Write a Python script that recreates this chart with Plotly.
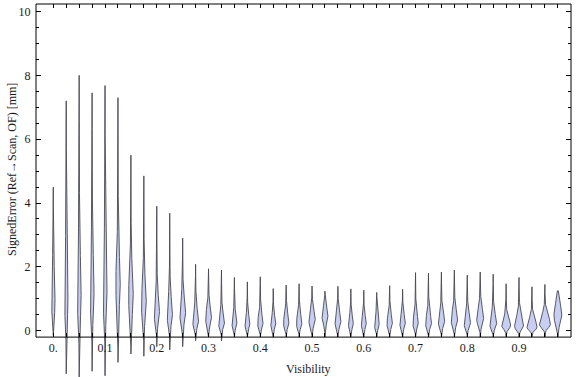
import numpy as np
import plotly.graph_objects as go

# ---------------- data ----------------
visibility = [0.0, 0.025, 0.05, 0.075, 0.1, 0.125, 0.15, 0.175, 0.2, 0.225,
              0.25, 0.275, 0.3, 0.325, 0.35, 0.375, 0.4, 0.425, 0.45, 0.475,
              0.5, 0.525, 0.55, 0.575, 0.6, 0.625, 0.65, 0.675, 0.7, 0.725,
              0.75, 0.775, 0.8, 0.825, 0.85, 0.875, 0.9, 0.925, 0.95, 0.975]

err_min = [-0.15, -1.35, -1.46, -1.27, -1.41, -0.99, -0.73, -0.80, -0.50, -0.60,
           -0.50, -0.31, -0.20, -0.32, -0.20, -0.20, -0.20, -0.20, -0.20, -0.20,
           -0.20, -0.20, -0.20, -0.20, -0.20, -0.20, -0.20, -0.20, -0.20, -0.20,
           -0.20, -0.20, -0.20, -0.20, -0.20, -0.20, -0.20, -0.20, -0.20, -0.20]

err_max = [4.50, 7.20, 8.00, 7.45, 7.68, 7.30, 5.50, 4.85, 3.90, 3.68,
           2.90, 2.08, 1.94, 1.90, 1.67, 1.53, 1.69, 1.32, 1.43, 1.47,
           1.40, 1.24, 1.39, 1.31, 1.27, 1.20, 1.41, 1.30, 1.82, 1.80,
           1.84, 1.90, 1.74, 1.84, 1.77, 1.47, 1.67, 1.375, 1.45, 1.25]

err_mode = [0.80, 0.80, 0.90, 0.90, 0.90, 1.40, 1.00, 0.75, 0.50, 0.45,
            0.50, 0.26, 0.36, 0.20, 0.20, 0.19, 0.20, 0.19, 0.20, 0.19,
            0.31, 0.42, 0.25, 0.19, 0.19, 0.16, 0.20, 0.20, 0.20, 0.20,
            0.26, 0.31, 0.20, 0.32, 0.19, 0.16, 0.12, 0.10, 0.19, 0.45]

# relative peak density (full violin width)
peak_density = [2.5, 2.5, 3.0, 3.0, 3.0, 3.5, 3.8, 4.0, 4.5, 4.5,
                5.0, 5.0, 5.0, 5.0, 4.0, 4.0, 4.5, 4.0, 4.5, 4.5,
                5.5, 5.0, 5.0, 4.0, 4.0, 4.0, 4.5, 4.5, 4.5, 5.0,
                5.5, 5.5, 5.5, 6.0, 6.0, 8.0, 8.0, 9.0, 10.0, 7.0]

spread_lo = [0.35, 0.40, 0.45, 0.45, 0.45, 0.60, 0.45, 0.35, 0.25, 0.22,
             0.22, 0.14, 0.18, 0.11, 0.11, 0.11, 0.11, 0.11, 0.11, 0.11,
             0.15, 0.18, 0.13, 0.11, 0.11, 0.10, 0.11, 0.11, 0.11, 0.11,
             0.13, 0.15, 0.11, 0.15, 0.11, 0.10, 0.09, 0.08, 0.10, 0.22]

spread_hi = [1.00, 1.30, 1.30, 1.30, 1.30, 0.90, 0.80, 0.70, 0.50, 0.50,
             0.45, 0.35, 0.35, 0.30, 0.28, 0.25, 0.28, 0.25, 0.30, 0.30,
             0.30, 0.30, 0.30, 0.25, 0.25, 0.25, 0.28, 0.28, 0.28, 0.30,
             0.30, 0.32, 0.32, 0.35, 0.30, 0.22, 0.30, 0.25, 0.28, 0.40]

x_major = [0.0, 0.1, 0.2, 0.3, 0.4, 0.5, 0.6, 0.7, 0.8, 0.9]
x_major_text = ["0.", "0.1", "0.2", "0.3", "0.4", "0.5", "0.6", "0.7", "0.8", "0.9"]
y_major = [0, 2, 4, 6, 8, 10]
y_minor = [0.5, 1, 1.5, 2.5, 3, 3.5, 4.5, 5, 5.5, 6.5, 7, 7.5, 8.5, 9, 9.5]

# ---------------- layout geometry ----------------
W, H = 576, 377
ML, MR, MT, MB = 36, 5, 4, 0
XR = [-0.0334, 1.0004]
YR = [-1.45, 10.235]
FRAME_Y = -0.2
plot_w = W - ML - MR
plot_h = H - MT - MB
px_per_x = plot_w / (XR[1] - XR[0])
frame_pos = (FRAME_Y - YR[0]) / (YR[1] - YR[0])

FILL = "rgb(199,206,241)"
EDGE = "rgb(72,72,82)"
FONT = "Liberation Serif"
TAIL = 1.0

fig = go.Figure()
for xc, lo, hi, m, dens, slo, shi in zip(visibility, err_min, err_max, err_mode,
                                         peak_density, spread_lo, spread_hi):
    ys = np.linspace(lo, hi, 400)
    s = np.where(ys < m, slo, shi)
    bulge = 0.5 * dens * np.exp(-0.5 * ((ys - m) / s) ** 2)
    tail = np.where(ys >= m, (hi - ys) / (hi - m), (ys - lo) / (m - lo)) * 0.5 * TAIL
    hw = (bulge + tail) / px_per_x
    xs = np.concatenate([xc + hw, (xc - hw)[::-1], [xc + hw[0]]])
    yy = np.concatenate([ys, ys[::-1], [ys[0]]])
    fig.add_trace(go.Scatter(x=xs, y=yy, mode="lines", fill="toself",
                             fillcolor=FILL, line=dict(color=EDGE, width=0.9),
                             hoverinfo="skip", showlegend=False))

# dummy trace for top axis
fig.add_trace(go.Scatter(x=[visibility[0]], y=[0], xaxis="x2", mode="markers",
                         marker=dict(opacity=0), showlegend=False, hoverinfo="skip"))

tickfont = dict(family=FONT, size=12, color="#1a1a1a")
fig.update_layout(
    width=W, height=H,
    margin=dict(l=ML, r=MR, t=MT, b=MB, autoexpand=False),
    paper_bgcolor="white", plot_bgcolor="white",
    xaxis=dict(range=XR, anchor="free", position=frame_pos, showgrid=False,
               zeroline=False, showline=False, ticks="inside", ticklen=4,
               tickcolor="black", tickwidth=1, tickvals=x_major, ticktext=x_major_text,
               tickfont=tickfont, ticklabelstandoff=2,
               minor=dict(tickvals=visibility, ticks="inside", ticklen=4,
                          tickcolor="black", showgrid=False)),
    xaxis2=dict(range=XR, overlaying="x", side="top", anchor="y", showgrid=False,
                zeroline=False, showline=False, ticks="inside", ticklen=4,
                tickcolor="black", tickvals=visibility, showticklabels=False),
    yaxis=dict(range=YR, showgrid=False, zeroline=False, showline=True,
               linecolor="rgba(0,0,0,0)", mirror="ticks", ticks="inside",
               ticklen=5, tickcolor="black", tickvals=y_major,
               tickfont=tickfont, ticklabelstandoff=2,
               minor=dict(tickvals=y_minor, ticks="inside", ticklen=3,
                          tickcolor="black", showgrid=False)),
    shapes=[dict(type="rect", xref="paper", yref="paper", x0=0, x1=1,
                 y0=frame_pos, y1=1, line=dict(color="black", width=1), layer="above")],
    annotations=[
        dict(text="Visibility", xref="paper", yref="paper", showarrow=False,
             x=(308 - ML) / plot_w, y=(H - 369) / plot_h,
             xanchor="center", yanchor="middle", font=dict(family=FONT, size=12, color="#1a1a1a")),
        dict(text="SignedError (Ref\u2192Scan, OF) [mm]", xref="paper", yref="paper",
             showarrow=False, textangle=-90, x=(12 - ML) / plot_w,
             y=(H - 170) / plot_h, xanchor="center", yanchor="middle",
             font=dict(family=FONT, size=12, color="#1a1a1a")),
    ],
)

fig.write_html("out.html", config={"displayModeBar": False},
               post_script="document.body.style.margin='0';")
